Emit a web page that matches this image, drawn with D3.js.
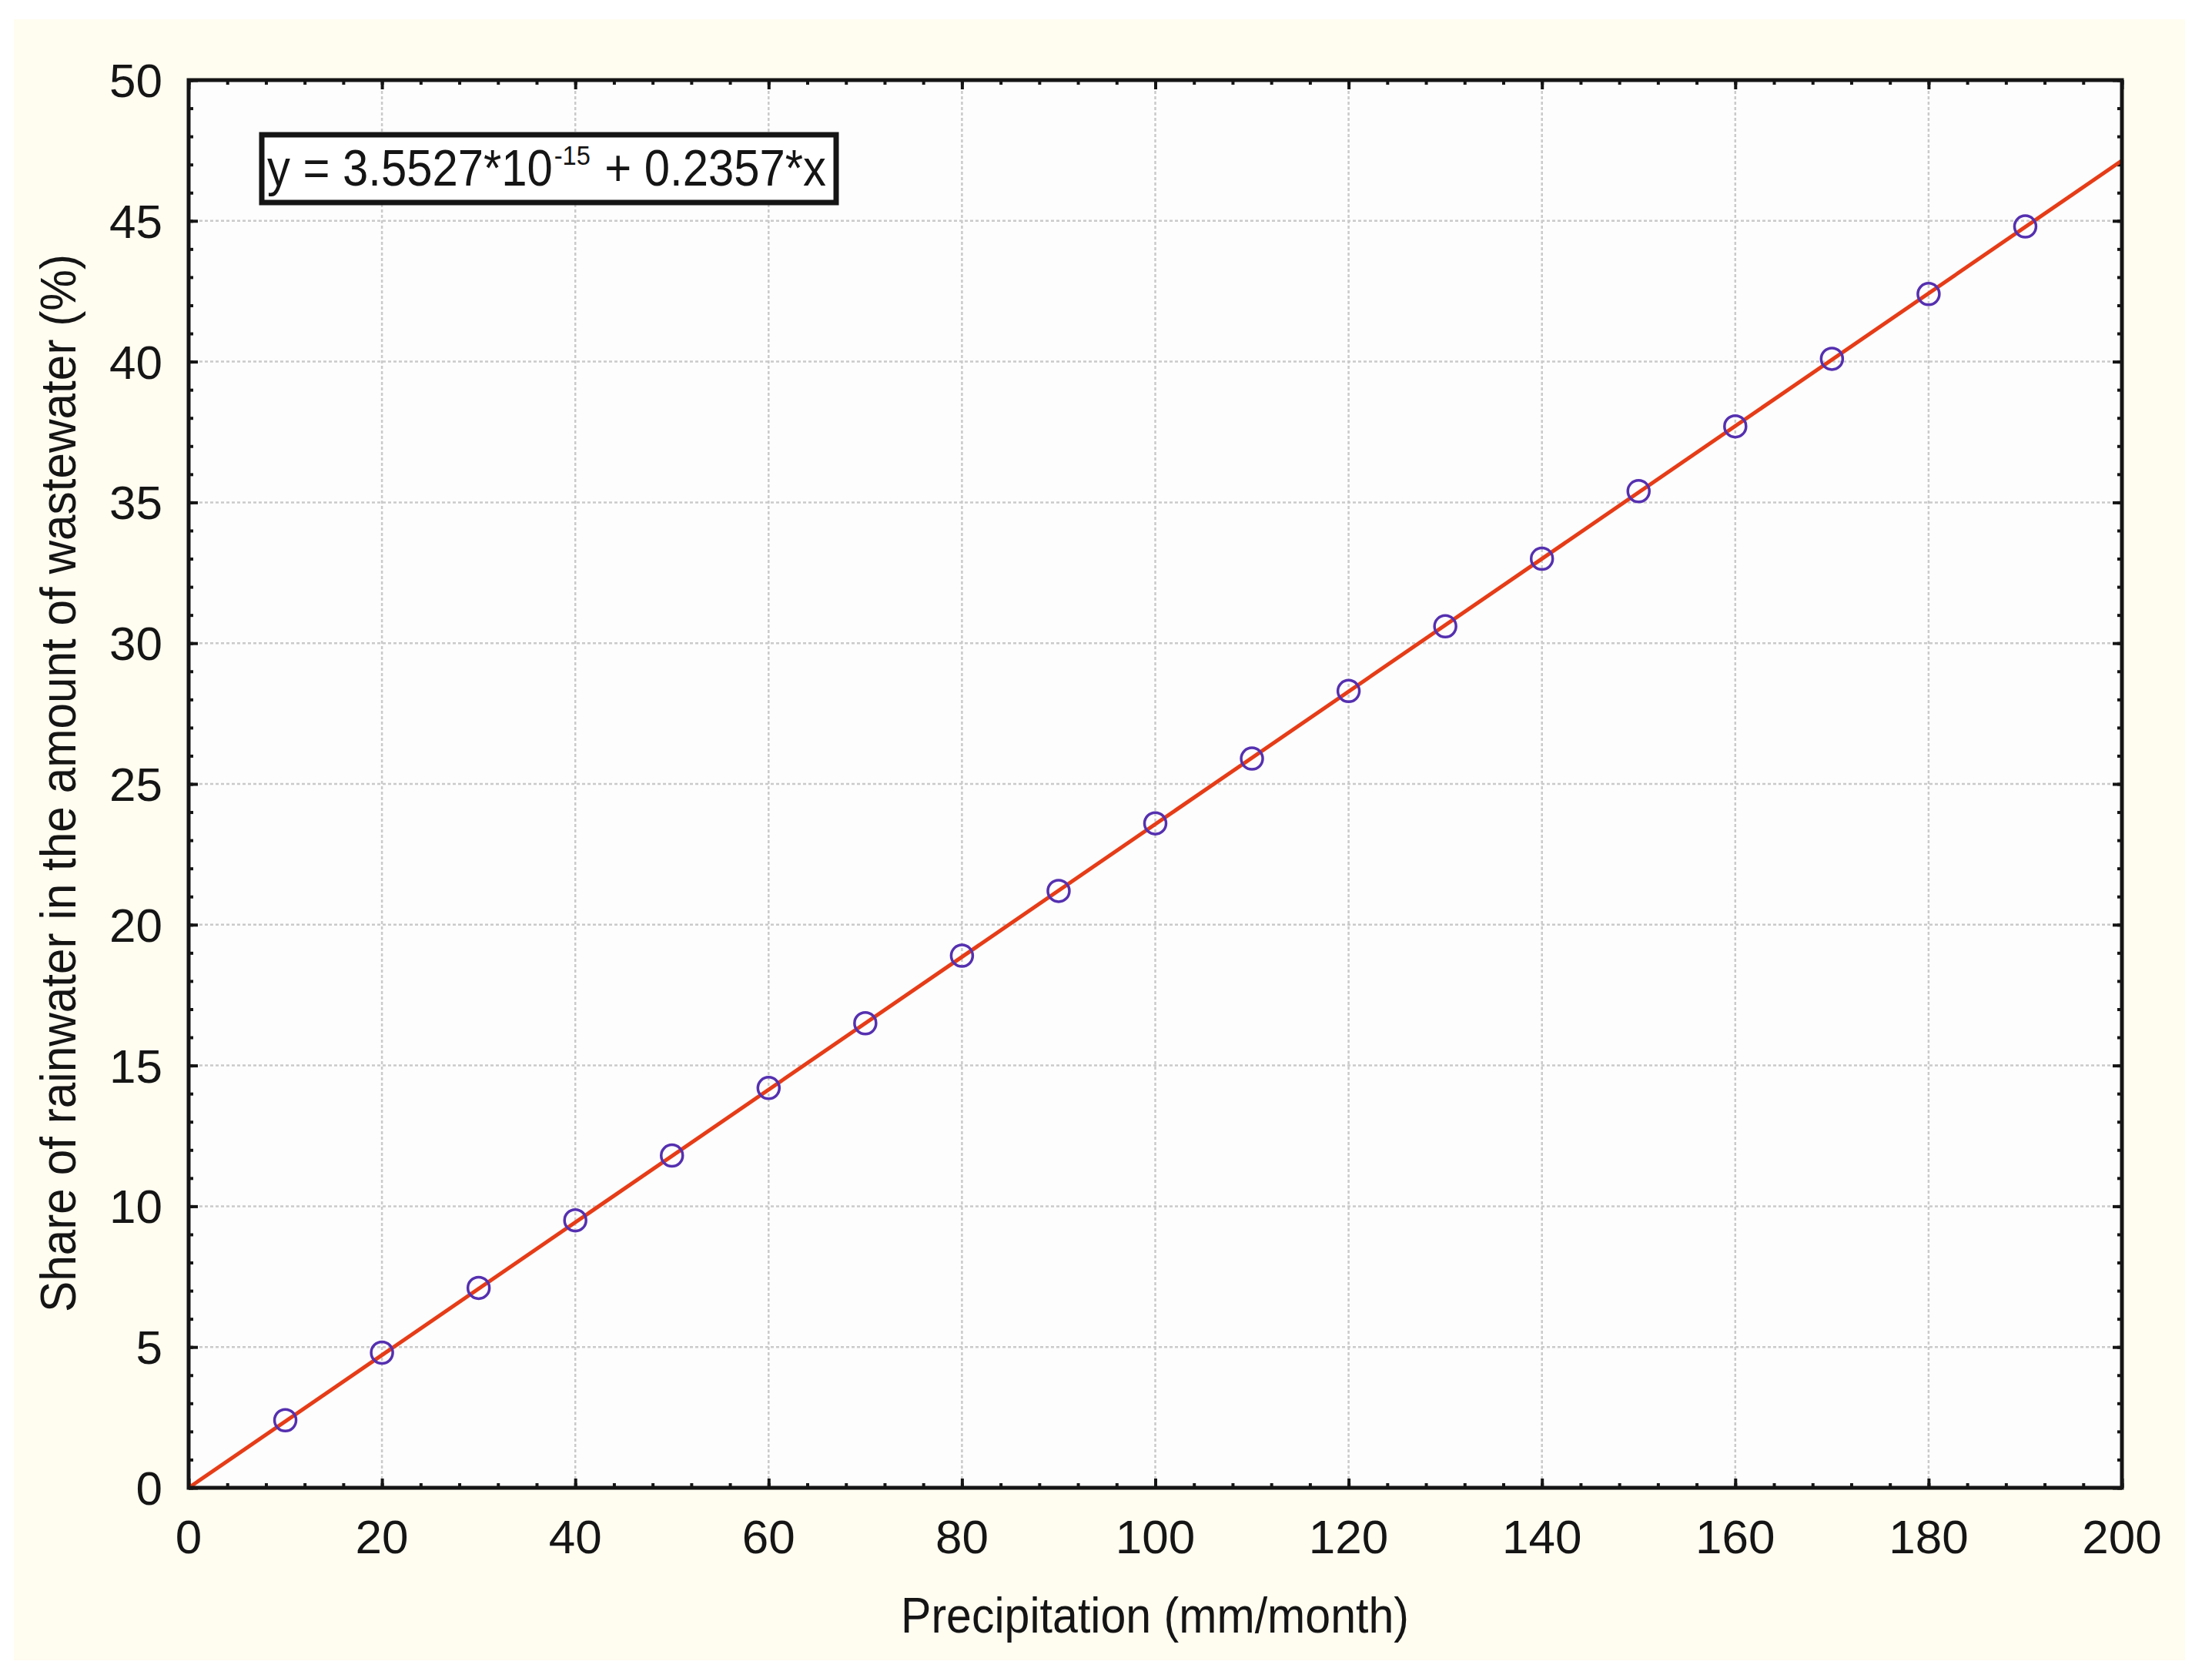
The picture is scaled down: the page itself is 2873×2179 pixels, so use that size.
<!DOCTYPE html>
<html>
<head>
<meta charset="utf-8">
<script src="https://cdn.jsdelivr.net/npm/d3@7/dist/d3.min.js"></script>
<style>
  html, body { margin: 0; padding: 0; background: #ffffff; }
  svg { display: block; }
  text { font-family: "Liberation Sans", Arial, sans-serif; fill: #151515; }
</style>
</head>
<body>
<svg id="chart" width="2873" height="2179"></svg>
<script>
// ---- data ----
const precipitation = [10, 20, 30, 40, 50, 60, 70, 80, 90, 100, 110, 120, 130, 140, 150, 160, 170, 180, 190];
const rainShare = [2.4, 4.8, 7.1, 9.5, 11.8, 14.2, 16.5, 18.9, 21.2, 23.6, 25.9, 28.3, 30.6, 33.0, 35.4, 37.7, 40.1, 42.4, 44.8];
const fitIntercept = 3.5527e-15;
const fitSlope = 0.2357;
const xTickValues = [0, 20, 40, 60, 80, 100, 120, 140, 160, 180, 200];
const yTickValues = [0, 5, 10, 15, 20, 25, 30, 35, 40, 45, 50];
const xMinorValues = d3.range(0, 201, 4);
const yMinorValues = d3.range(0, 51, 1);
const xTitle = "Precipitation (mm/month)";
const yTitle = "Share of rainwater in the amount of wastewater (%)";
const eqMain = "y = 3.5527*10";
const eqExp = "-15";
const eqRest = " + 0.2357*x";

// ---- layout ----
const svg = d3.select("#chart");
const L = 245, R = 2756, T = 104, B = 1932;
const x = d3.scaleLinear().domain([0, 200]).range([L, R]);
const y = d3.scaleLinear().domain([0, 50]).range([B, T]);
const axisColor = "#151515";

// backgrounds
svg.append("rect").attr("x", 18).attr("y", 25).attr("width", 2820).attr("height", 2131).attr("fill", "#fffcf0");
svg.append("rect").attr("x", L).attr("y", T).attr("width", R - L).attr("height", B - T).attr("fill", "#fdfdfd");

// grid
const grid = svg.append("g").attr("stroke", "#cacaca").attr("stroke-width", 2.5).attr("stroke-dasharray", "4,3");
grid.selectAll("line.gx").data(xTickValues.slice(1, -1)).join("line")
  .attr("x1", d => x(d)).attr("x2", d => x(d)).attr("y1", T).attr("y2", B);
grid.selectAll("line.gy").data(yTickValues.slice(1, -1)).join("line")
  .attr("x1", L).attr("x2", R).attr("y1", d => y(d)).attr("y2", d => y(d));

// axes via d3 axis generators (ticks inward)
function styleAxis(g) {
  g.select(".domain").remove();
  g.selectAll(".tick line").attr("stroke", axisColor).attr("stroke-width", 4);
  g.selectAll(".tick text").remove();
}
const majX = 12, minX = 6;
svg.append("g").attr("transform", `translate(0,${B})`)
  .call(d3.axisBottom(x).tickValues(xMinorValues).tickSize(-minX)).call(styleAxis);
svg.append("g").attr("transform", `translate(0,${B})`)
  .call(d3.axisBottom(x).tickValues(xTickValues).tickSize(-majX)).call(styleAxis);
svg.append("g").attr("transform", `translate(0,${T})`)
  .call(d3.axisTop(x).tickValues(xMinorValues).tickSize(-minX)).call(styleAxis);
svg.append("g").attr("transform", `translate(0,${T})`)
  .call(d3.axisTop(x).tickValues(xTickValues).tickSize(-majX)).call(styleAxis);
svg.append("g").attr("transform", `translate(${L},0)`)
  .call(d3.axisLeft(y).tickValues(yMinorValues).tickSize(-minX)).call(styleAxis);
svg.append("g").attr("transform", `translate(${L},0)`)
  .call(d3.axisLeft(y).tickValues(yTickValues).tickSize(-majX)).call(styleAxis);
svg.append("g").attr("transform", `translate(${R},0)`)
  .call(d3.axisRight(y).tickValues(yMinorValues).tickSize(-minX)).call(styleAxis);
svg.append("g").attr("transform", `translate(${R},0)`)
  .call(d3.axisRight(y).tickValues(yTickValues).tickSize(-majX)).call(styleAxis);

// tick labels
svg.append("g").selectAll("text").data(xTickValues).join("text")
  .attr("x", d => x(d)).attr("y", 2017).attr("text-anchor", "middle")
  .attr("font-size", 62).text(d => d);
svg.append("g").selectAll("text").data(yTickValues).join("text")
  .attr("x", 211).attr("y", d => y(d) + 22).attr("text-anchor", "end")
  .attr("font-size", 62).text(d => d);

// fit line
const line = d3.line().x(d => x(d)).y(d => y(fitIntercept + fitSlope * d));
svg.append("path").datum([0, 200]).attr("d", line)
  .attr("fill", "none").attr("stroke", "#e63c17").attr("stroke-width", 5);

// points
svg.append("g").selectAll("circle").data(precipitation).join("circle")
  .attr("cx", d => x(d)).attr("cy", (d, i) => y(rainShare[i])).attr("r", 14)
  .attr("fill", "none").attr("stroke", "#5530b0").attr("stroke-width", 3.5);

// frame
svg.append("rect").attr("x", L).attr("y", T).attr("width", R - L).attr("height", B - T)
  .attr("fill", "none").attr("stroke", axisColor).attr("stroke-width", 5);

// equation box
svg.append("rect").attr("x", 340).attr("y", 175).attr("width", 746).attr("height", 88)
  .attr("fill", "#ffffff").attr("stroke", axisColor).attr("stroke-width", 7);
const eqG = svg.append("g");
const t1 = eqG.append("text").attr("x", 0).attr("y", 0).attr("font-size", 66).text(eqMain);
const w1 = t1.node().getComputedTextLength();
const t2 = eqG.append("text").attr("x", w1 + 2).attr("y", -27).attr("font-size", 36).text(eqExp);
const w2 = t2.node().getComputedTextLength();
const t3 = eqG.append("text").attr("x", w1 + w2 + 4).attr("y", 0).attr("font-size", 66)
  .attr("xml:space", "preserve").style("white-space", "pre").text(eqRest);
const w3 = t3.node().getComputedTextLength();
const total = w1 + w2 + 4 + w3;
eqG.attr("transform", `translate(347,241) scale(${726 / total},1)`);

// axis titles
svg.append("text").attr("x", 1500).attr("y", 2120).attr("text-anchor", "middle")
  .attr("font-size", 64).attr("textLength", 660).attr("lengthAdjust", "spacingAndGlyphs")
  .text(xTitle);
svg.append("text").attr("transform", "translate(98,1017) rotate(-90)").attr("text-anchor", "middle")
  .attr("font-size", 64).attr("textLength", 1374).attr("lengthAdjust", "spacingAndGlyphs")
  .text(yTitle);
</script>
</body>
</html>
